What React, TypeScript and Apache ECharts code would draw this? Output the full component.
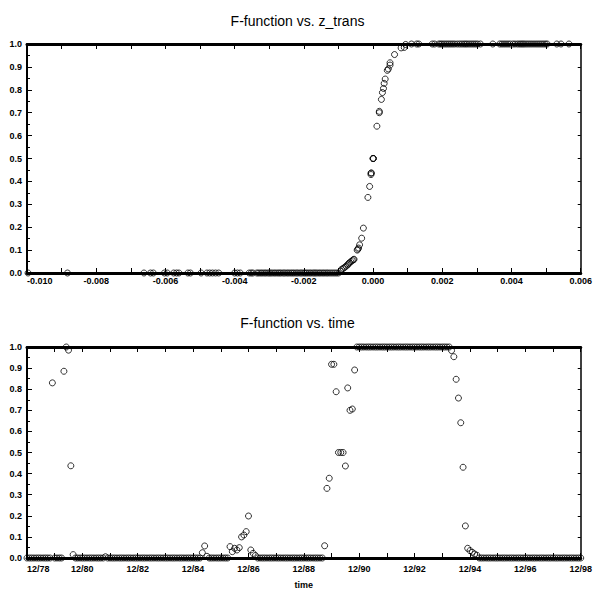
import { useEffect, useRef } from "react";
import * as echarts from "echarts";

const TITLE_TOP = "F-function vs. z_trans";
const TITLE_BOTTOM = "F-function vs. time";
const X_NAME_BOTTOM = "time";

// top panel: z_trans values whose F-function is 0
const zAtZero = [
  -0.00997, -0.00883, -0.00662, -0.00643, -0.00635, -0.00603, -0.00595, -0.00576,
  -0.00568, -0.00561, -0.00535, -0.00528, -0.00497, -0.0048, -0.00472, -0.00464,
  -0.00455, -0.00446, -0.004, -0.00392, -0.00384, -0.00358, -0.00352, -0.00347,
  -0.00336, -0.00331, -0.00325, -0.0032, -0.00314, -0.00309, -0.00303, -0.00298,
  -0.00293, -0.00287, -0.00282, -0.00276, -0.00271, -0.00266, -0.0026, -0.00255,
  -0.00249, -0.00244, -0.00238, -0.00233, -0.00228, -0.00222, -0.00217, -0.00211,
  -0.00206, -0.002, -0.00195, -0.0019, -0.00184, -0.00179, -0.00173, -0.00168,
  -0.00163, -0.00157, -0.00152, -0.00146, -0.00141, -0.00135, -0.0013, -0.00124,
  -0.00118, -0.00112, -0.00106, -0.001,
];

// top panel: transition points
const zRising = [
  -0.00094, -0.00091, -0.00086, -0.00082, -0.00078, -0.00074, -0.00071, -0.00068,
  -0.00064, -0.0006, -0.00057, -0.00055, -0.00046, -0.00044, -0.00042, -0.00039,
  -0.00033, -0.00028, -0.00015, -0.0001, -0.00006, -0.00006, -0.00005, 0.0, 0.0,
  0.00001, 0.00011, 0.00018, 0.00018, 0.00024, 0.00027, 0.0003, 0.00032, 0.00035,
  0.00041, 0.00044, 0.00049, 0.00049, 0.00062, 0.00081, 0.0009, 0.00094,
];
const fRising = [
  0.008, 0.016, 0.02, 0.025, 0.03, 0.035, 0.04, 0.045,
  0.05, 0.054, 0.058, 0.06, 0.1, 0.104, 0.109, 0.123,
  0.152, 0.196, 0.33, 0.378, 0.43, 0.436, 0.437, 0.5, 0.5,
  0.5, 0.641, 0.7, 0.706, 0.758, 0.788, 0.806, 0.828, 0.847,
  0.885, 0.891, 0.908, 0.918, 0.954, 0.983, 0.985, 0.998,
];

// top panel: z_trans values whose F-function is 1
const zAtOne = [
  0.00111, 0.00126, 0.00132, 0.00171, 0.00178, 0.0019, 0.00195, 0.002, 0.00206,
  0.00212, 0.00218, 0.00224, 0.0023, 0.00236, 0.00243, 0.0025, 0.00256, 0.00262,
  0.00267, 0.00272, 0.00278, 0.00284, 0.0029, 0.00296, 0.00302, 0.0031, 0.00346,
  0.00366, 0.00372, 0.00378, 0.00384, 0.0039, 0.00396, 0.00404, 0.0041, 0.00417,
  0.00423, 0.00428, 0.00433, 0.00438, 0.00444, 0.0045, 0.00456, 0.00462, 0.00468,
  0.00474, 0.0048, 0.00486, 0.00492, 0.00498, 0.00503, 0.00531, 0.00543, 0.00566,
];

// bottom panel: monthly F-function, first value = December 1978
const FIRST_YEAR = 78;
const fByMonth = [
  0, 0, 0, 0, 0, 0, 0, 0, 0, 0, 0, 0.83,
  0, 0, 0, 0, 0.885, 1.0, 0.985, 0.437, 0.016, 0, 0, 0,
  0, 0, 0, 0, 0, 0, 0, 0, 0, 0, 0.006, 0,
  0, 0, 0, 0, 0, 0, 0, 0, 0, 0, 0, 0,
  0, 0, 0, 0, 0, 0, 0, 0, 0, 0, 0, 0,
  0, 0, 0, 0, 0, 0, 0, 0, 0, 0, 0, 0,
  0, 0, 0, 0, 0.025, 0.057, 0.008, 0, 0, 0, 0, 0,
  0, 0, 0, 0, 0.054, 0.03, 0.046, 0.038, 0.049, 0.1, 0.109, 0.125,
  0.199, 0.038, 0.022, 0.012, 0, 0, 0, 0, 0, 0, 0, 0,
  0, 0, 0, 0, 0, 0, 0, 0, 0, 0, 0, 0,
  0, 0, 0, 0, 0, 0, 0, 0, 0, 0.058, 0.33, 0.378,
  0.918, 0.918, 0.788, 0.5, 0.5, 0.5, 0.436, 0.806, 0.7, 0.706, 0.891, 1,
  1, 1, 1, 1, 1, 1, 1, 1, 1, 1, 1, 1,
  1, 1, 1, 1, 1, 1, 1, 1, 1, 1, 1, 1,
  1, 1, 1, 1, 1, 1, 1, 1, 1, 1, 1, 1,
  1, 1, 1, 1, 0.983, 0.954, 0.847, 0.758, 0.641, 0.43, 0.152, 0.046,
  0.035, 0.027, 0.019, 0.013, 0, 0, 0, 0, 0, 0, 0, 0,
  0, 0, 0, 0, 0, 0, 0, 0, 0, 0, 0, 0,
  0, 0, 0, 0, 0, 0, 0, 0, 0, 0, 0, 0,
  0, 0, 0, 0, 0, 0, 0, 0, 0, 0, 0, 0,
  0,
];

const FONT = "Liberation Sans";
const labelStyle = { color: "#000", fontSize: 9, fontWeight: "bold" as const, fontFamily: FONT };

export default function App() {
  const ref = useRef<HTMLDivElement>(null);
  useEffect(() => {
    const chart = echarts.init(ref.current!, null, { renderer: "svg" });

    const topData: number[][] = [
      ...zAtZero.map((z) => [z, 0]),
      ...zRising.map((z, i) => [z, fRising[i]]),
      ...zAtOne.map((z) => [z, 1]),
    ];
    const bottomData: number[][] = fByMonth.map((f, i) => [i, f]);

    const line = (w: number) => ({ show: true, onZero: false, lineStyle: { color: "#000", width: w } });

    const mkY = (grid: number, pos: "left" | "right") => ({
      type: "value" as const,
      gridIndex: grid,
      position: pos,
      min: 0,
      max: 1,
      interval: 0.1,
      z: 10,
      splitLine: { show: false },
      axisLine: line(pos === "left" ? 2 : 1.5),
      axisTick: { show: true, inside: true, length: pos === "left" ? 5 : 3, lineStyle: { color: "#000", width: 1 } },
      minorTick: { show: pos === "left", splitNumber: 2, length: 3, lineStyle: { color: "#000", width: 1 } },
      axisLabel: pos === "left"
        ? { ...labelStyle, margin: 5, formatter: (v: number) => v.toFixed(1) }
        : { show: false },
    });

    const option: any = {
      animation: false,
      backgroundColor: "#fff",
      title: [
        { text: TITLE_TOP, left: "center", top: 9, textStyle: { color: "#000", fontSize: 14, fontWeight: "normal", fontFamily: FONT } },
        { text: TITLE_BOTTOM, left: "center", top: 311, textStyle: { color: "#000", fontSize: 14, fontWeight: "normal", fontFamily: FONT } },
      ],
      grid: [
        { left: 27, top: 44, width: 560, height: 229 },
        { left: 27, top: 347, width: 567, height: 211 },
      ],
      xAxis: [
        {
          type: "value", gridIndex: 0, position: "bottom", min: -0.01, max: 0.006, interval: 0.001, z: 10,
          splitLine: { show: false }, axisLine: line(3),
          axisTick: { inside: true, length: 5, lineStyle: { color: "#000", width: 1 } },
          axisLabel: {
            ...labelStyle, margin: 3, alignMinLabel: "left", alignMaxLabel: "center",
            formatter: (v: number) => (Math.round(v * 1000) % 2 === 0 ? v.toFixed(3).replace("-0.000", "0.000") : ""),
          },
        },
        {
          type: "value", gridIndex: 0, position: "top", min: -0.01, max: 0.006, interval: 0.001, z: 10,
          splitLine: { show: false }, axisLine: line(3),
          axisTick: { inside: true, length: 5, lineStyle: { color: "#000", width: 1 } },
          axisLabel: { show: false },
        },
        {
          type: "value", gridIndex: 1, position: "bottom", min: 0, max: fByMonth.length - 1, interval: 12, z: 10,
          splitLine: { show: false }, axisLine: line(3),
          axisTick: { inside: true, length: 5, lineStyle: { color: "#000", width: 1 } },
          axisLabel: {
            ...labelStyle, margin: 6, alignMinLabel: "left", alignMaxLabel: "center",
            formatter: (v: number) => (v % 24 === 0 ? `12/${FIRST_YEAR + v / 12}` : ""),
          },
          name: X_NAME_BOTTOM, nameLocation: "middle", nameGap: 22,
          nameTextStyle: { color: "#000", fontSize: 9, fontWeight: "bold", fontFamily: FONT },
        },
        {
          type: "value", gridIndex: 1, position: "top", min: 0, max: fByMonth.length - 1, interval: 12, z: 10,
          splitLine: { show: false }, axisLine: line(3),
          axisTick: { inside: true, length: 5, lineStyle: { color: "#000", width: 1 } },
          axisLabel: { show: false },
        },
      ],
      yAxis: [mkY(0, "left"), mkY(0, "right"), mkY(1, "left"), mkY(1, "right")],
      series: [
        {
          type: "scatter", xAxisIndex: 0, yAxisIndex: 0, data: topData,
          symbol: "circle", symbolSize: 6, silent: true, clip: false,
          itemStyle: { color: "rgba(0,0,0,0)", borderColor: "#000", borderWidth: 1 },
        },
        {
          type: "scatter", xAxisIndex: 2, yAxisIndex: 2, data: bottomData,
          symbol: "circle", symbolSize: 6, silent: true, clip: false,
          itemStyle: { color: "rgba(0,0,0,0)", borderColor: "#000", borderWidth: 1 },
        },
      ],
    };
    chart.setOption(option);
    return () => chart.dispose();
  }, []);
  return (
    <div
      ref={ref}
      style={{ position: "fixed", left: 0, top: 0, width: 595, height: 594, background: "#fff" }}
    />
  );
}
